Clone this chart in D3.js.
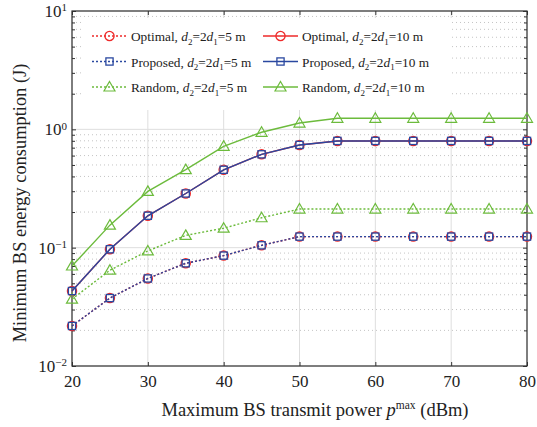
<!DOCTYPE html>
<html>
<head>
<meta charset="utf-8">
<script src="https://cdn.jsdelivr.net/npm/d3@7"></script>
<style>
    body { margin: 0; background: #fff; }
    svg text { font-family: 'Liberation Serif', 'Times New Roman', serif; }
</style>
</head>
<body>
<svg width="537" height="427"></svg>
<script>
// Data
const power = [20, 25, 30, 35, 40, 45, 50, 55, 60, 65, 70, 75, 80];
const optimal10 = [0.043, 0.097, 0.186, 0.287, 0.455, 0.615, 0.738, 0.798, 0.798, 0.798, 0.798, 0.798, 0.798];
const proposed10 = [0.043, 0.097, 0.186, 0.287, 0.455, 0.615, 0.738, 0.798, 0.798, 0.798, 0.798, 0.798, 0.798];
const random10 = [0.070, 0.155, 0.299, 0.457, 0.719, 0.944, 1.13, 1.24, 1.24, 1.24, 1.24, 1.24, 1.24];
const optimal5 = [0.0218, 0.0375, 0.0549, 0.0738, 0.0857, 0.1047, 0.124, 0.124, 0.124, 0.124, 0.124, 0.124, 0.124];
const proposed5 = [0.0218, 0.0375, 0.0549, 0.0738, 0.0857, 0.1047, 0.124, 0.124, 0.124, 0.124, 0.124, 0.124, 0.124];
const random5 = [0.0367, 0.0645, 0.0938, 0.127, 0.146, 0.179, 0.212, 0.212, 0.212, 0.212, 0.212, 0.212, 0.212];
const xTicks = [20, 30, 40, 50, 60, 70, 80];
const yTicks = [0.01, 0.1, 1, 10];

const red = '#ee2a2a';
const blue = '#2a48a0';
const green = '#6cbb3c';

// Series, drawn in this order (red under blue)
const series = [
    { name: 'Optimal', d: '5', values: optimal5, color: red, dash: '2,2', marker: 'circle' },
    { name: 'Optimal', d: '10', values: optimal10, color: red, dash: null, marker: 'circle' },
    { name: 'Random', d: '5', values: random5, color: green, dash: '2,2', marker: 'triangle' },
    { name: 'Random', d: '10', values: random10, color: green, dash: null, marker: 'triangle' },
    { name: 'Proposed', d: '5', values: proposed5, color: blue, dash: '2,2', marker: 'square' },
    { name: 'Proposed', d: '10', values: proposed10, color: blue, dash: null, marker: 'square' },
];

const svg = d3.select('svg');
const plotLeft = 72, plotRight = 527, plotTop = 11, plotBottom = 366;

const x = d3.scaleLinear().domain([20, 80]).range([plotLeft, plotRight]);
const y = d3.scaleLog().domain([0.01, 10]).range([plotBottom, plotTop]);

// Minor values for log grid
const minor = [];
[0.01, 0.1, 1].forEach((d) => {
    for (let k = 2; k <= 9; k++) minor.push(d * k);
});

// Grid
const grid = svg.append('g').attr('class', 'grid');
grid.selectAll('line.minor')
    .data(minor)
    .enter()
    .append('line')
    .attr('x1', plotLeft).attr('x2', plotRight)
    .attr('y1', (d) => y(d)).attr('y2', (d) => y(d))
    .attr('stroke', '#c4c4c4')
    .attr('stroke-dasharray', '1,3');
grid.selectAll('line.major')
    .data(yTicks)
    .enter()
    .append('line')
    .attr('x1', plotLeft).attr('x2', plotRight)
    .attr('y1', (d) => y(d)).attr('y2', (d) => y(d))
    .attr('stroke', '#dedede');
grid.selectAll('line.vert')
    .data(xTicks)
    .enter()
    .append('line')
    .attr('x1', (d) => x(d)).attr('x2', (d) => x(d))
    .attr('y1', plotTop).attr('y2', plotBottom)
    .attr('stroke', '#dedede');

// Legend background hides the grid
svg.append('rect')
    .attr('x', 83).attr('y', 18)
    .attr('width', 369).attr('height', 92)
    .attr('fill', '#fff');

// Axes
function styleAxis(g) {
    g.select('.domain').remove();
    g.selectAll('.tick line').attr('stroke', '#333');
    g.selectAll('.tick text')
        .attr('fill', '#222')
        .attr('font-size', 17);
}
svg.append('g')
    .attr('transform', `translate(0,${plotBottom})`)
    .call(d3.axisBottom(x).tickValues(xTicks).tickSize(-4).tickPadding(9).tickFormat(d3.format('d')))
    .call(styleAxis);
svg.append('g')
    .attr('transform', `translate(0,${plotTop})`)
    .call(d3.axisTop(x).tickValues(xTicks).tickSize(-4).tickFormat(''))
    .call(styleAxis);

const yAxis = svg.append('g')
    .attr('transform', `translate(${plotLeft},0)`)
    .call(d3.axisLeft(y).tickValues(yTicks).tickSize(-4).tickPadding(5).tickFormat(''))
    .call(styleAxis);
yAxis.selectAll('.tick text').each(function (d) {
    const t = d3.select(this);
    t.append('tspan').text('10');
    t.append('tspan')
        .attr('dy', '-0.5em')
        .attr('font-size', 11)
        .text(Math.round(Math.log10(d)).toString().replace('-', '\u2212'));
});
svg.append('g')
    .attr('transform', `translate(${plotLeft},0)`)
    .call(d3.axisLeft(y).tickValues(minor).tickSize(-3).tickFormat(''))
    .call(styleAxis);
svg.append('g')
    .attr('transform', `translate(${plotRight},0)`)
    .call(d3.axisRight(y).tickValues(yTicks).tickSize(-4).tickFormat(''))
    .call(styleAxis);
svg.append('g')
    .attr('transform', `translate(${plotRight},0)`)
    .call(d3.axisRight(y).tickValues(minor).tickSize(-3).tickFormat(''))
    .call(styleAxis);

svg.append('rect')
    .attr('x', plotLeft).attr('y', plotTop)
    .attr('width', plotRight - plotLeft).attr('height', plotBottom - plotTop)
    .attr('fill', 'none')
    .attr('stroke', '#333')
    .attr('stroke-width', 1.2);

// Markers
const triPath = 'M0,-5.5L5.5,4L-5.5,4Z';
function drawMarker(g, type, color) {
    if (type === 'circle') {
        g.append('circle').attr('r', 4.6).attr('fill', 'none').attr('stroke', color).attr('stroke-width', 1.3);
    } else if (type === 'square') {
        g.append('rect').attr('x', -3.6).attr('y', -3.6).attr('width', 7.2).attr('height', 7.2)
            .attr('fill', 'none').attr('stroke', color).attr('stroke-width', 1.3);
    } else {
        g.append('path').attr('d', triPath).attr('fill', 'none').attr('stroke', color).attr('stroke-width', 1.2);
    }
}

const line = d3.line().x((d) => x(d[0])).y((d) => y(d[1]));
series.forEach((s) => {
    const pts = power.map((p, i) => [p, s.values[i]]);
    const g = svg.append('g');
    g.append('path')
        .datum(pts)
        .attr('d', line)
        .attr('fill', 'none')
        .attr('stroke', s.color)
        .attr('stroke-width', 1.4)
        .attr('stroke-dasharray', s.dash);
    g.selectAll('g.m')
        .data(pts)
        .enter()
        .append('g')
        .attr('transform', (d) => `translate(${x(d[0])},${y(d[1])})`)
        .each(function () { drawMarker(d3.select(this), s.marker, s.color); });
});

// Legend
const legendOrder = [
    { name: 'Optimal', d: '5', color: red, dash: '2,2', marker: 'circle' },
    { name: 'Proposed', d: '5', color: blue, dash: '2,2', marker: 'square' },
    { name: 'Random', d: '5', color: green, dash: '2,2', marker: 'triangle' },
    { name: 'Optimal', d: '10', color: red, dash: null, marker: 'circle' },
    { name: 'Proposed', d: '10', color: blue, dash: null, marker: 'square' },
    { name: 'Random', d: '10', color: green, dash: null, marker: 'triangle' },
];
const legend = svg.append('g').attr('font-size', 13.3);
legendOrder.forEach((s, i) => {
    const col = Math.floor(i / 3), row = i % 3;
    const lx = col === 0 ? 92 : 263;
    const ly = 36 + row * 25.5;
    const g = legend.append('g').attr('transform', `translate(${lx},${ly})`);
    g.append('line')
        .attr('x1', 0).attr('x2', 35)
        .attr('stroke', s.color).attr('stroke-width', 1.4)
        .attr('stroke-dasharray', s.dash);
    drawMarker(g.append('g').attr('transform', 'translate(17.5,0)'), s.marker, s.color);
    const t = g.append('text').attr('x', 39).attr('y', 5).attr('fill', '#222');
    t.append('tspan').text(s.name + ', ');
    t.append('tspan').attr('font-style', 'italic').text('d');
    t.append('tspan').attr('dy', 3.5).attr('font-size', 9).text('2');
    t.append('tspan').attr('dy', -3.5).text('=2');
    t.append('tspan').attr('font-style', 'italic').text('d');
    t.append('tspan').attr('dy', 3.5).attr('font-size', 9).text('1');
    t.append('tspan').attr('dy', -3.5).text('=' + s.d + ' m');
});

// Axis titles
const xt = svg.append('text')
    .attr('x', 315)
    .attr('y', 416)
    .attr('text-anchor', 'middle')
    .attr('fill', '#222')
    .attr('font-size', 18.5);
xt.append('tspan').text('Maximum BS transmit power ');
xt.append('tspan').attr('font-style', 'italic').text('p');
xt.append('tspan').attr('dy', -7).attr('font-size', 11.5).text('max');
xt.append('tspan').attr('dy', 7).text(' (dBm)');

svg.append('text')
    .attr('transform', 'translate(26,203) rotate(-90)')
    .attr('text-anchor', 'middle')
    .attr('fill', '#222')
    .attr('font-size', 18.4)
    .text('Minimum BS energy consumption (J)');
</script>
</body>
</html>
